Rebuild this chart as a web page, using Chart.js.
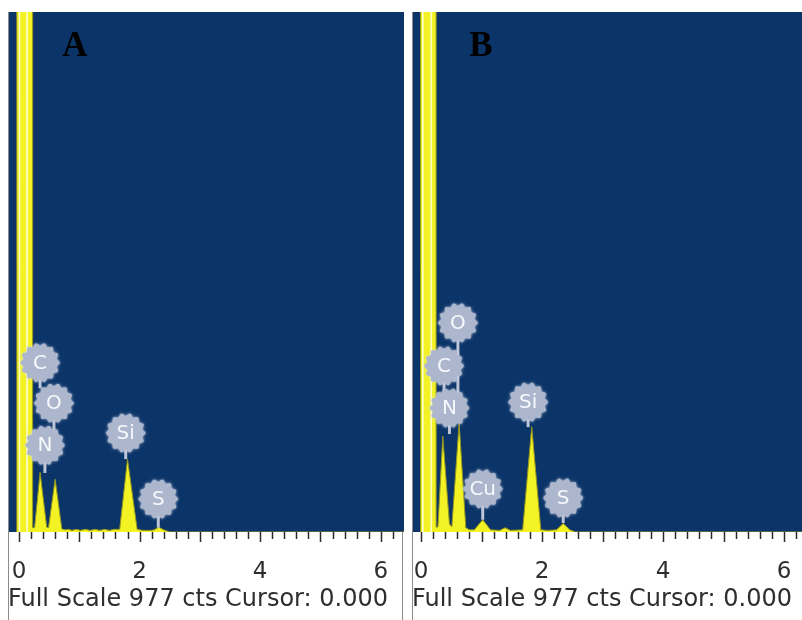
<!DOCTYPE html>
<html>
<head>
<meta charset="utf-8">
<script src="https://cdn.jsdelivr.net/npm/chart.js@4.4.1/dist/chart.umd.min.js"></script>
<style>
  body { margin: 0; background: #fff; width: 802px; height: 620px; position: relative; overflow: hidden; }
  canvas { position: absolute; top: 12px; }
</style>
</head>
<body>
<canvas id="chartA" width="396" height="608" style="left:8px"></canvas>
<canvas id="chartB" width="390" height="608" style="left:412px"></canvas>
<script>
const fullScale = 977;
const tickLabels = [0, 2, 4, 6];

// spectrum A (keV, counts)
const energyA = [-0.038, -0.036, 0.07, 0.21, 0.227, 0.24, 0.26, 0.35, 0.46, 0.49, 0.60, 0.71, 0.76, 0.82, 0.88, 0.95, 1.02, 1.10, 1.18, 1.26, 1.34, 1.42, 1.50, 1.58, 1.67, 1.80, 1.96, 2.05, 2.20, 2.24, 2.32, 2.40, 2.50, 6.40];
const countsA = [0, 40000, 3000, 40000, 8, 8, 9, 112, 9, 8, 99, 6, 4, 5, 3, 5, 3, 5, 3, 5, 3, 5, 3, 5, 5, 137, 5, 3, 3, 4, 9, 4, 0, 0];
const spikeEnergyA = [-0.008, -0.0079, 0.022, 0.0221, 0.12, 0.1201, 0.15, 0.1501];
const spikeCountsA = [0, 40000, 40000, 0, 0, 40000, 40000, 0];

const badgeTextA = ['C', 'O', 'N', 'Si', 'S'];
const badgeEnergyA = [0.35, 0.58, 0.43, 1.77, 2.31];
const badgeLevelA = [318, 242, 163, 186, 62];
const stemEndA = [270, 170, 111, 137, 8];

// spectrum B
const energyB = [-0.01, -0.008, 0.09, 0.235, 0.25, 0.26, 0.28, 0.36, 0.47, 0.51, 0.63, 0.74, 0.80, 0.88, 1.02, 1.15, 1.30, 1.39, 1.48, 1.68, 1.83, 1.98, 2.10, 2.24, 2.35, 2.46, 2.55, 6.40];
const countsB = [0, 40000, 3000, 40000, 10, 9, 10, 180, 15, 10, 205, 8, 4, 4, 23, 4, 3, 8, 3, 4, 198, 4, 3, 4, 16, 4, 0, 0];
const spikeEnergyB = [0.015, 0.0151, 0.045, 0.0451, 0.155, 0.1551, 0.185, 0.1851];
const spikeCountsB = [0, 40000, 40000, 0, 0, 40000, 40000, 0];

const badgeTextB = ['O', 'C', 'N', 'Si', 'Cu', 'S'];
const badgeEnergyB = [0.61, 0.38, 0.47, 1.77, 1.02, 2.35];
const badgeLevelB = [393, 312, 233, 244, 81, 64];
const stemEndB = [205, 240, 184, 197, 23, 17];

const toPoints = (xs, ys) => xs.map((x, i) => ({ x, y: ys[i] }));

function drawBadge(ctx, x, y, text) {
  ctx.save();
  ctx.beginPath();
  const bumps = 14, r = 18.5;
  for (let i = 0; i <= 224; i++) {
    const a = i / 224 * Math.PI * 2;
    const rr = r + 1.3 * Math.cos(a * bumps);
    const px = x + rr * Math.cos(a), py = y + rr * Math.sin(a);
    i === 0 ? ctx.moveTo(px, py) : ctx.lineTo(px, py);
  }
  ctx.closePath();
  ctx.shadowColor = 'rgba(215,222,238,0.9)';
  ctx.shadowBlur = 3;
  ctx.fillStyle = 'rgb(172,183,205)';
  ctx.fill();
  ctx.shadowBlur = 0;
  ctx.fillStyle = '#f6f8fc';
  ctx.font = '20px "DejaVu Sans"';
  ctx.textAlign = 'center';
  ctx.textBaseline = 'middle';
  ctx.fillText(text, x, y + 1);
  ctx.restore();
}

const panelPlugin = {
  id: 'panel',
  beforeDraw(chart) {
    const { ctx, chartArea: a } = chart;
    ctx.save();
    ctx.fillStyle = 'rgb(11,52,104)';
    ctx.fillRect(a.left, a.top, a.right - a.left, a.bottom - a.top);
    ctx.restore();
  },
  afterDatasetsDraw(chart, args, opts) {
    const { ctx, scales: { x, y } } = chart;
    ctx.save();
    ctx.strokeStyle = 'rgb(190,198,216)';
    ctx.lineWidth = 3;
    opts.text.forEach((t, i) => {
      const px = x.getPixelForValue(opts.energy[i]);
      ctx.beginPath();
      ctx.moveTo(px, y.getPixelForValue(opts.level[i]));
      ctx.lineTo(px, y.getPixelForValue(opts.stem[i]));
      ctx.stroke();
    });
    ctx.restore();
    opts.text.forEach((t, i) => {
      drawBadge(ctx, x.getPixelForValue(opts.energy[i]), y.getPixelForValue(opts.level[i]), t);
    });
  },
  afterDraw(chart, args, opts) {
    const { ctx, chartArea: a, scales: { x } } = chart;
    ctx.save();
    ctx.strokeStyle = '#2a2a2a';
    ctx.lineWidth = 1.5;
    x.ticks.forEach(t => {
      if (t.value < -1e-6) return;
      const major = Math.abs(t.value - Math.round(t.value)) < 1e-6;
      const px = Math.round(x.getPixelForValue(t.value)) + 0.5;
      ctx.beginPath();
      ctx.moveTo(px, a.bottom);
      ctx.lineTo(px, a.bottom + (major ? 10 : 7));
      ctx.stroke();
    });
    ctx.strokeStyle = '#8c8c8c';
    ctx.lineWidth = 1;
    ctx.beginPath();
    ctx.moveTo(0.5, 0);
    ctx.lineTo(0.5, chart.height);
    if (opts.rightBorder) {
      ctx.moveTo(chart.width - 1.5, a.bottom);
      ctx.lineTo(chart.width - 1.5, chart.height);
    }
    ctx.stroke();
    ctx.fillStyle = '#000';
    ctx.font = 'bold 35px "Liberation Serif"';
    ctx.textAlign = 'center';
    ctx.textBaseline = 'alphabetic';
    ctx.fillText(opts.letter, a.left + opts.letterX, a.top + 44);
    ctx.restore();
  }
};

function makeChart(id, spectrum, spikes, xmin, xmax, panel) {
  return new Chart(document.getElementById(id), {
    type: 'line',
    data: {
      datasets: [
        { data: spikes, order: 0, fill: 'origin', borderWidth: 0, pointRadius: 0, tension: 0,
          backgroundColor: 'rgba(252,252,205,0.95)', borderColor: 'rgba(0,0,0,0)' },
        { data: spectrum, order: 1, fill: 'origin', borderWidth: 1, pointRadius: 0, tension: 0,
          backgroundColor: 'rgb(242,242,36)', borderColor: 'rgb(150,150,30)' }
      ]
    },
    options: {
      responsive: false,
      devicePixelRatio: 1,
      animation: false,
      layout: { padding: 0, autoPadding: false },
      plugins: { legend: { display: false }, tooltip: { enabled: false }, panel },
      scales: {
        x: {
          type: 'linear', min: xmin, max: xmax,
          grid: { display: false, drawTicks: false },
          border: { display: false },
          afterFit: s => {
            s.height = 88;
            s.paddingLeft = 0;
            s.paddingRight = 0;
          },
          ticks: {
            stepSize: 0.2, includeBounds: false, autoSkip: false, maxRotation: 0, minRotation: 0, padding: 26,
            color: '#2e2e2e', font: { family: 'DejaVu Sans', size: 23 },
            callback: v => {
              const r = Math.round(v);
              return Math.abs(v - r) < 1e-6 && tickLabels.includes(r) ? String(r) : '';
            }
          },
          title: {
            display: true, align: 'start', color: '#2e2e2e',
            text: `Full Scale ${fullScale} cts Cursor: 0.000`,
            font: { family: 'DejaVu Sans', size: 24 },
            padding: { top: 1, bottom: 6 }
          }
        },
        y: { display: false, min: 0, max: fullScale }
      }
    },
    plugins: [panelPlugin]
  });
}

makeChart('chartA', toPoints(energyA, countsA), toPoints(spikeEnergyA, spikeCountsA), -0.182, 6.385,
  { letter: 'A', letterX: 67, rightBorder: true, text: badgeTextA, energy: badgeEnergyA, level: badgeLevelA, stem: stemEndA });
makeChart('chartB', toPoints(energyB, countsB), toPoints(spikeEnergyB, spikeCountsB), -0.149, 6.297,
  { letter: 'B', letterX: 69, rightBorder: false, text: badgeTextB, energy: badgeEnergyB, level: badgeLevelB, stem: stemEndB });
</script>
</body>
</html>
